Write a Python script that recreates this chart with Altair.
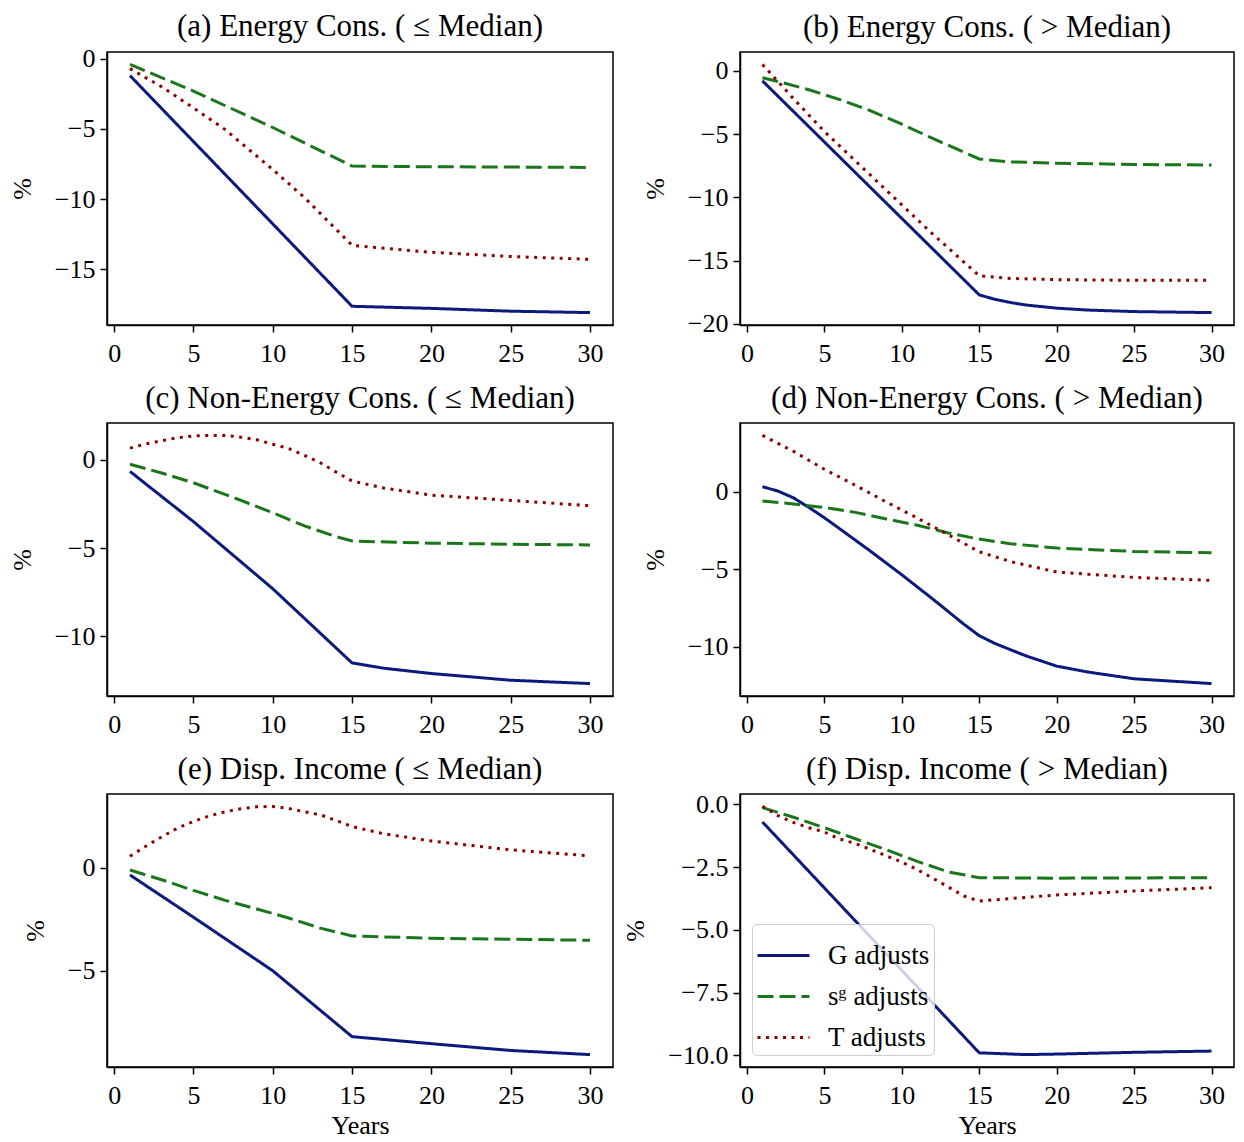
import altair as alt
import pandas as pd

SERIES = ["G adjusts", "sᵍ adjusts", "T adjusts"]
COLORS = ["#0b1a7c", "#1b761b", "#8b0000"]
DASHES = [[1, 0], [16, 6], [3, 5.5]]

TITLES = [
    "(a) Energy Cons. ( ≤  Median)",
    "(b) Energy Cons. ( >  Median)",
    "(c) Non-Energy Cons. ( ≤  Median)",
    "(d) Non-Energy Cons. ( >  Median)",
    "(e) Disp. Income ( ≤  Median)",
    "(f) Disp. Income ( >  Median)",
]
X_TICKS = [0, 5, 10, 15, 20, 25, 30]
Y_TICKS = [
    [0, -5, -10, -15],
    [0, -5, -10, -15, -20],
    [0, -5, -10],
    [0, -5, -10],
    [0, -5],
    [0, -2.5, -5, -7.5, -10],
]

# (a) Energy consumption, <= median
a_G_years = [1, 15, 20, 25, 30]
a_G_vals = [-1.2, -17.65, -17.8, -18.0, -18.1]
a_S_years = [1, 5, 10, 15, 20, 25, 30]
a_S_vals = [-0.4, -2.3, -4.9, -7.65, -7.7, -7.72, -7.75]
a_T_years = [1, 3, 5, 7, 10, 12, 15, 20, 25, 30]
a_T_vals = [-0.7, -2.0, -3.5, -5.05, -7.9, -9.9, -13.3, -13.8, -14.1, -14.3]

# (b) Energy consumption, > median
b_G_years = [1, 15, 16, 17, 18, 20, 22, 25, 30]
b_G_vals = [-0.8, -17.7, -18.05, -18.3, -18.5, -18.75, -18.9, -19.02, -19.1]
b_S_years = [1, 2, 4, 6, 8, 10, 12, 15, 17, 20, 25, 30]
b_S_vals = [-0.55, -0.85, -1.5, -2.28, -3.17, -4.22, -5.35, -6.97, -7.2, -7.3, -7.4, -7.45]
b_T_years = [1, 2, 3, 5, 10, 12, 15, 17, 20, 25, 30]
b_T_vals = [0.5, -0.85, -2.2, -4.8, -10.6, -12.9, -16.2, -16.4, -16.5, -16.55, -16.55]

# (c) Non-energy consumption, <= median
c_G_years = [1, 5, 10, 15, 17, 20, 25, 30]
c_G_vals = [-0.66, -3.5, -7.3, -11.5, -11.8, -12.1, -12.48, -12.67]
c_S_years = [1, 3, 5, 8, 10, 12, 14, 15, 20, 25, 30]
c_S_vals = [-0.25, -0.75, -1.3, -2.3, -3.0, -3.74, -4.35, -4.6, -4.72, -4.78, -4.82]
c_T_years = [1, 2, 3, 4, 5, 6, 7, 8, 9, 10, 11, 12, 13, 14, 15, 17, 20, 25, 30]
c_T_vals = [0.66, 0.9, 1.08, 1.25, 1.35, 1.38, 1.38, 1.28, 1.13, 0.88, 0.64, 0.25, -0.17, -0.7, -1.2, -1.6, -2.0, -2.3, -2.6]

# (d) Non-energy consumption, > median
d_G_years = [1, 2, 3, 4, 5, 6, 8, 10, 12, 14, 15, 16, 17, 18, 20, 22, 25, 30]
d_G_vals = [0.34, 0.06, -0.38, -1.0, -1.67, -2.39, -3.85, -5.36, -6.93, -8.55, -9.3, -9.8, -10.2, -10.6, -11.27, -11.65, -12.09, -12.4]
d_S_years = [1, 3, 5, 7, 9, 11, 13, 15, 17, 20, 25, 30]
d_S_vals = [-0.58, -0.78, -1.0, -1.32, -1.75, -2.15, -2.65, -3.05, -3.35, -3.63, -3.85, -3.94]
d_T_years = [1, 3, 5, 7, 9, 11, 13, 15, 17, 20, 25, 30]
d_T_vals = [3.66, 2.63, 1.47, 0.43, -0.65, -1.69, -2.77, -3.87, -4.5, -5.18, -5.53, -5.72]

# (e) Disposable income, <= median
e_G_years = [1, 5, 10, 15, 20, 25, 30]
e_G_vals = [-0.35, -2.4, -5.0, -8.2, -8.54, -8.87, -9.07]
e_S_years = [1, 3, 5, 7, 9, 11, 13, 15, 20, 25, 30]
e_S_vals = [-0.11, -0.58, -1.1, -1.58, -2.0, -2.44, -2.93, -3.31, -3.42, -3.47, -3.52]
e_T_years = [1, 2, 3, 4, 5, 6, 7, 8, 9, 10, 11, 12, 13, 14, 15, 17, 20, 25, 30]
e_T_vals = [0.56, 1.05, 1.5, 1.93, 2.25, 2.52, 2.72, 2.87, 2.96, 2.98, 2.88, 2.72, 2.57, 2.3, 2.0, 1.65, 1.3, 0.87, 0.58]

# (f) Disposable income, > median
f_G_years = [1, 15, 18, 20, 25, 30]
f_G_vals = [-0.7, -9.9, -9.97, -9.95, -9.88, -9.83]
f_S_years = [1, 3, 5, 7, 9, 11, 13, 15, 20, 25, 30]
f_S_vals = [-0.13, -0.51, -0.93, -1.37, -1.81, -2.27, -2.69, -2.92, -2.94, -2.93, -2.92]
f_T_years = [1, 2, 3, 4, 5, 6, 7, 8, 9, 10, 11, 12, 13, 14, 15, 20, 25, 30]
f_T_vals = [-0.08, -0.45, -0.72, -0.93, -1.1, -1.38, -1.56, -1.8, -2.05, -2.3, -2.6, -2.94, -3.29, -3.65, -3.85, -3.61, -3.45, -3.32]

PANELS = [
    [(a_G_years, a_G_vals), (a_S_years, a_S_vals), (a_T_years, a_T_vals)],
    [(b_G_years, b_G_vals), (b_S_years, b_S_vals), (b_T_years, b_T_vals)],
    [(c_G_years, c_G_vals), (c_S_years, c_S_vals), (c_T_years, c_T_vals)],
    [(d_G_years, d_G_vals), (d_S_years, d_S_vals), (d_T_years, d_T_vals)],
    [(e_G_years, e_G_vals), (e_S_years, e_S_vals), (e_T_years, e_T_vals)],
    [(f_G_years, f_G_vals), (f_S_years, f_S_vals), (f_T_years, f_T_vals)],
]

# title offsets (compensate y-label overhang above the frame)
TITLE_OFFSETS = [2.5, 8, 8, 8, 8, 5.3]
PANEL_WIDTHS = [506, 494, 506, 494, 506, 494]

FONT = "Liberation Serif"


def make_df(panel):
    rows = []
    for name, (yrs, vals) in zip(SERIES, panel):
        for yr, v in zip(yrs, vals):
            rows.append({"year": yr, "value": v, "series": name})
    return pd.DataFrame(rows)


def make_panel(i):
    df = make_df(PANELS[i])
    lo, hi = df["value"].min(), df["value"].max()
    pad = 0.05 * (hi - lo)
    x_kwargs = {"title": "Years" if i >= 4 else None}
    fmt = ".1f" if i == 5 else "d"
    if i == 5:
        leg = alt.Legend(
            title=None, orient="bottom-left", offset=12,
            symbolType="stroke", symbolSize=2700, symbolStrokeWidth=3,
            labelFont=FONT, labelFontSize=27, labelColor="black",
            labelOffset=17, rowPadding=-4, padding=4,
            fillColor="rgba(255,255,255,0.8)", strokeColor="#cccccc",
            cornerRadius=5,
        )
    else:
        leg = None
    color = alt.Color("series:N", scale=alt.Scale(domain=SERIES, range=COLORS), legend=leg)
    dash = alt.StrokeDash("series:N", scale=alt.Scale(domain=SERIES, range=DASHES), legend=leg)
    return alt.Chart(df).mark_line(strokeWidth=3, strokeCap="butt").encode(
        x=alt.X("year:Q",
                scale=alt.Scale(domain=[-0.45, 31.45], nice=False, zero=False),
                axis=alt.Axis(values=X_TICKS, format="d"), **x_kwargs),
        y=alt.Y("value:Q",
                scale=alt.Scale(domain=[lo - pad, hi + pad], nice=False, zero=False),
                axis=alt.Axis(values=Y_TICKS[i], format=fmt), title="%"),
        color=color,
        strokeDash=dash,
        order=alt.Order("year:Q"),
    ).properties(
        width=PANEL_WIDTHS[i], height=273,
        title=alt.TitleParams(TITLES[i], frame="group", offset=TITLE_OFFSETS[i]),
    )


chart = alt.concat(
    *[make_panel(i) for i in range(6)], columns=2,
    spacing={"row": 15, "column": 8},
).resolve_scale(
    color="independent", strokeDash="independent"
).configure(
    font=FONT,
    padding={"left": 0, "top": 2, "right": 0, "bottom": 0},
).configure_view(
    stroke="black", strokeWidth=1.5,
).configure_axis(
    labelFont=FONT, labelFontSize=26, labelColor="black",
    labelFlush=False, labelOverlap=False,
    titleFont=FONT, titleFontSize=26, titleColor="black", titleFontWeight="normal",
    tickColor="black", tickWidth=1.5, tickSize=7,
    domainColor="black", domainWidth=1.5, grid=False,
).configure_axisX(
    labelPadding=8, titlePadding=4,
).configure_axisY(
    labelPadding=5, titlePadding=19,
).configure_title(
    font=FONT, fontSize=31, fontWeight="normal", color="black",
)

chart.save("out.html", embed_options={"renderer": "svg", "actions": False})
